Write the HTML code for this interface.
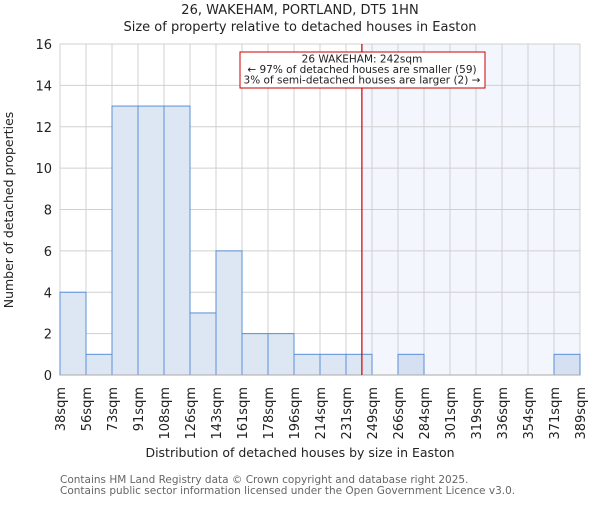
<!DOCTYPE html>
<html><head><meta charset="utf-8"><style>
body{margin:0;background:#fff}
svg{font-family:"DejaVu Sans","Liberation Sans",sans-serif}
</style></head><body>
<svg width="600" height="500" viewBox="0 0 600 500">
<text x="300" y="14" text-anchor="middle" font-size="13" fill="#222">26, WAKEHAM, PORTLAND, DT5 1HN</text>
<text x="300" y="31" text-anchor="middle" font-size="13" fill="#222">Size of property relative to detached houses in Easton</text>
<g id="plot"></g>
<text x="300" y="457" text-anchor="middle" font-size="12.5" fill="#222">Distribution of detached houses by size in Easton</text>
<text transform="translate(13,210) rotate(-90)" text-anchor="middle" font-size="12.5" fill="#222">Number of detached properties</text>
<text x="60" y="483" font-size="10.5" fill="#666">Contains HM Land Registry data © Crown copyright and database right 2025.</text>
<text x="60" y="494" font-size="10.5" fill="#666">Contains public sector information licensed under the Open Government Licence v3.0.</text>
</svg>
<script>
const labels=["38sqm","56sqm","73sqm","91sqm","108sqm","126sqm","143sqm","161sqm","178sqm","196sqm","214sqm","231sqm","249sqm","266sqm","284sqm","301sqm","319sqm","336sqm","354sqm","371sqm","389sqm"];
const edges=[38,56,73,91,108,126,143,161,178,196,214,231,249,266,284,301,319,336,354,371,389];
const counts=[4,1,13,13,13,3,6,2,2,1,1,1,0,1,0,0,0,0,0,1];
const yTicks=[0,2,4,6,8,10,12,14,16];
const subject=242;
const L=60,R=580,T=44,B=375,NS="http://www.w3.org/2000/svg";
const n=counts.length;
const xi=i=>L+(R-L)*i/n;
const xv=v=>{let i=0;while(i<edges.length-2&&v>edges[i+1])i++;return xi(i)+(v-edges[i])/(edges[i+1]-edges[i])*(R-L)/n;};
const y=v=>B-(B-T)*v/16;
const g=document.getElementById('plot');
function mk(t,a){const e=document.createElementNS(NS,t);for(const k in a)e.setAttribute(k,a[k]);g.appendChild(e);return e;}
const sx=xv(subject);
let e=mk('rect',{x:sx,y:T,width:R-sx,height:B-T,fill:'#f3f6fd'});


for(let i=0;i<=n;i++){e=mk('line',{x1:xi(i),x2:xi(i),y1:T,y2:B,stroke:'#d0d0d0'});

}
yTicks.forEach(t=>{e=mk('line',{x1:L,x2:R,y1:y(t),y2:y(t),stroke:'#d0d0d0'});


e=mk('text',{x:L-8,y:y(t)+5,'text-anchor':'end','font-size':13,fill:'#222'});e.textContent=t;

});
counts.forEach((c,i)=>{if(!c)return;const x0=xi(i);
e=mk('rect',{x:x0,y:y(c),width:(R-L)/n,height:B-y(c),fill:x0>=sx?'#d5e1f3':'#dde7f4',stroke:'#5b8fd6','stroke-width':1});

});
e=mk('line',{x1:L,x2:R,y1:B,y2:B,stroke:'#aaa'});


labels.forEach((l,i)=>{e=mk('text',{transform:`translate(${xi(i)+5},387) rotate(-90)`,'text-anchor':'end','font-size':13,fill:'#222'});e.textContent=l;

});
e=mk('line',{x1:sx,x2:sx,y1:T,y2:B,stroke:'#cc0000','stroke-width':1.2});


e=mk('rect',{x:240,y:52,width:245,height:36,fill:'#fff',stroke:'#cc0000'});


["26 WAKEHAM: 242sqm","← 97% of detached houses are smaller (59)","3% of semi-detached houses are larger (2) →"].forEach((s,k)=>{
e=mk('text',{x:362,y:62.5+k*10.5,'text-anchor':'middle','font-size':10.5,fill:'#222'});e.textContent=s;

});
</script>
</body></html>
